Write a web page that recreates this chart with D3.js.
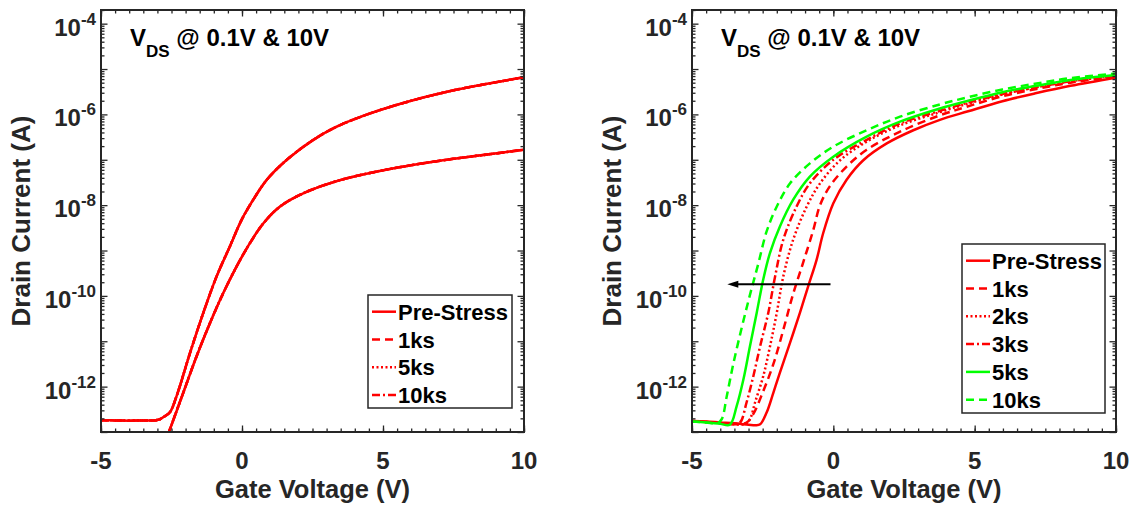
<!DOCTYPE html>
<html>
<head>
<meta charset="utf-8">
<script src="https://cdn.jsdelivr.net/npm/d3@7"></script>
<style>
  body { margin: 0; background: #ffffff; }
  svg { display: block; font-family: "Liberation Sans", Arial, Helvetica, sans-serif; font-weight: bold; }
</style>
</head>
<body>
<svg id="chart" width="1132" height="506"></svg>
<script>
// ---------- data ----------
const xTicks = [-5, 0, 5, 10];
const yTickExps = [-4, -6, -8, -10, -12];
const titleMain = "V";
const titleSub = "DS";
const titleRest = " @ 0.1V & 10V";
const xTitle = "Gate Voltage (V)";
const yTitle = "Drain Current (A)";

// Left panel: transfer curves at VDS = 10 V and 0.1 V (all stress times coincide)
const leftStress = ["Pre-Stress", "1ks", "5ks", "10ks"];
const leftVg10 = [-5, -4.5, -4, -3.5, -3.05, -2.91, -2.73, -2.55, -2.32, -1.84, -1.37, -0.90, -0.43, -0.01, 0.40, 0.88, 1.59, 2.53, 3.36, 4.54, 6.0, 7.5, 8.75, 10];
const leftId10 = [1.82e-13, 1.80e-13, 1.78e-13, 1.80e-13, 1.82e-13, 1.91e-13, 2.24e-13, 2.75e-13, 6.17e-13, 5.62e-12, 4.27e-11, 2.69e-10, 1.23e-9, 4.79e-9, 1.32e-8, 3.63e-8, 1.0e-7, 2.75e-7, 5.37e-7, 1.05e-6, 2.0e-6, 3.39e-6, 4.79e-6, 6.61e-6];
const leftVg01 = [-2.62, -2.08, -1.61, -1.13, -0.66, -0.19, 0.28, 0.76, 1.35, 2.17, 3.36, 4.54, 6.0, 7.5, 8.75, 10];
const leftId01 = [8.91e-14, 7.41e-13, 4.68e-12, 2.57e-11, 1.17e-10, 4.47e-10, 1.45e-9, 3.98e-9, 9.33e-9, 1.82e-8, 3.39e-8, 5.13e-8, 7.59e-8, 1.05e-7, 1.32e-7, 1.66e-7];

// Right panel: VDS = 10 V transfer curves after each stress time
const rightStress = ["Pre-Stress", "1ks", "2ks", "3ks", "5ks", "10ks"];
const rightVgPre = [-5, -4.5, -4, -3.5, -3, -2.75, -2.59, -2.36, -2.12, -1.89, -1.53, -1.18, -0.89, -0.59, -0.36, 0.0, 0.47, 1.06, 1.89, 2.83, 3.77, 4.77, 5.98, 7.19, 8.39, 10];
const rightIdPre = [1.74e-13, 1.70e-13, 1.62e-13, 1.55e-13, 1.45e-13, 1.41e-13, 1.48e-13, 2.69e-13, 7.41e-13, 2.04e-12, 9.33e-12, 4.27e-11, 1.62e-10, 6.31e-10, 2.40e-9, 1.10e-8, 3.63e-8, 9.77e-8, 2.29e-7, 4.47e-7, 7.59e-7, 1.17e-6, 1.95e-6, 2.95e-6, 4.27e-6, 6.46e-6];
const rightVg1ks = [-5, -4.5, -4, -3.5, -3.07, -2.83, -2.48, -2.12, -1.77, -1.42, -1.06, -0.71, -0.47, -0.12, 0.47, 1.18, 2.36, 3.77, 4.77, 5.98, 7.19, 8.39, 10];
const rightId1ks = [1.74e-13, 1.66e-13, 1.58e-13, 1.48e-13, 1.62e-13, 2.51e-13, 7.94e-13, 3.16e-12, 1.78e-11, 1.12e-10, 5.62e-10, 2.82e-9, 1.0e-8, 2.63e-8, 7.08e-8, 1.66e-7, 4.17e-7, 9.55e-7, 1.51e-6, 2.51e-6, 3.63e-6, 5.01e-6, 6.76e-6];
const rightVg2ks = [-5, -4.5, -4, -3.5, -3.1, -2.95, -2.77, -2.48, -2.24, -2.0, -1.77, -1.42, -0.94, -0.47, 0.24, 1.18, 2.36, 3.77, 4.77, 5.98, 7.19, 8.39, 10];
const rightId2ks = [1.74e-13, 1.66e-13, 1.58e-13, 1.48e-13, 1.51e-13, 1.91e-13, 4.47e-13, 1.70e-12, 7.76e-12, 4.27e-11, 2.69e-10, 1.74e-9, 9.33e-9, 3.02e-8, 9.77e-8, 2.51e-7, 5.75e-7, 1.12e-6, 1.74e-6, 2.75e-6, 3.98e-6, 5.37e-6, 7.08e-6];
const rightVg3ks = [-5, -4.5, -4, -3.5, -3.30, -3.07, -2.83, -2.59, -2.30, -2.06, -1.77, -1.30, -0.83, 0.0, 1.18, 2.36, 3.77, 4.77, 5.98, 7.19, 8.39, 10];
const rightId3ks = [1.74e-13, 1.66e-13, 1.58e-13, 1.51e-13, 1.62e-13, 4.47e-13, 1.70e-12, 7.76e-12, 4.27e-11, 2.69e-10, 1.74e-9, 9.33e-9, 3.02e-8, 1.0e-7, 2.75e-7, 6.31e-7, 1.20e-6, 1.82e-6, 2.82e-6, 3.98e-6, 5.37e-6, 7.08e-6];
const rightVg5ks = [-5, -4.5, -4, -3.66, -3.42, -3.18, -2.95, -2.71, -2.48, -2.24, -1.89, -1.42, -0.83, 0.0, 1.18, 2.36, 3.77, 4.77, 5.98, 7.19, 8.39, 10];
const rightId5ks = [1.70e-13, 1.62e-13, 1.51e-13, 1.45e-13, 3.72e-13, 1.45e-12, 7.76e-12, 4.27e-11, 2.29e-10, 8.91e-10, 3.39e-9, 1.32e-8, 4.27e-8, 1.17e-7, 3.24e-7, 6.92e-7, 1.35e-6, 2.0e-6, 3.09e-6, 4.27e-6, 5.75e-6, 7.41e-6];
const rightVg10ks = [-5, -4.5, -4.1, -3.95, -3.77, -3.54, -3.24, -2.95, -2.65, -2.36, -2.0, -1.53, -0.83, 0.0, 1.18, 2.36, 3.77, 4.77, 5.98, 7.19, 8.39, 10];
const rightId10ks = [1.70e-13, 1.62e-13, 1.58e-13, 1.91e-13, 6.17e-13, 3.16e-12, 2.0e-11, 1.05e-10, 5.25e-10, 2.63e-9, 9.33e-9, 3.02e-8, 8.32e-8, 1.95e-7, 4.47e-7, 8.91e-7, 1.66e-6, 2.40e-6, 3.55e-6, 4.79e-6, 6.31e-6, 7.94e-6];

// Threshold-shift arrow (from, to) at a fixed current level
const arrowVg = [-0.1, -3.75];
const arrowId = 1.8e-10;

// ---------- styling ----------
const axisColor = "#262626";
const red = "#ff0000";
const green = "#00ff00";
const dashes = { solid: null, dashed: "8,5", dotted: "2,2.5", dashdot: "8,3,2,3" };
const FONT_TICK = 24, FONT_SUP = 17, FONT_LABEL = 25.5, FONT_LEG = 22, FONT_TITLE = 24, FONT_TSUB = 17;

const svg = d3.select("#chart");
const plotTop = 10, plotBottom = 432;

function zip(xs, ys) { return xs.map((v, i) => [v, ys[i]]); }

function makePanel(id, x0, x1) {
  const g = svg.append("g").attr("id", id);
  const x = d3.scaleLinear().domain([-5, 10]).range([x0, x1]);
  const y = d3.scaleLog().domain([1e-13, 2e-4]).range([plotBottom, plotTop]);

  g.append("clipPath").attr("id", id + "-clip")
    .append("rect").attr("x", x0).attr("y", plotTop).attr("width", x1 - x0).attr("height", plotBottom - plotTop);

  const plot = g.append("g").attr("clip-path", `url(#${id}-clip)`);
  return { g, plot, x, y, x0, x1 };
}

function drawAxes(p) {
  const { g, x, y, x0, x1 } = p;
  const xMinor = d3.range(-5, 10.001, 0.5);
  const yMajor = d3.range(-13, -3).map(k => Math.pow(10, k));
  const yMinor = [];
  for (let k = -13; k <= -4; k++) for (let m = 2; m <= 9; m++) {
    const v = m * Math.pow(10, k);
    if (v <= 2e-4) yMinor.push(v);
  }
  const strip = sel => { sel.select(".domain").remove(); sel.selectAll("line").attr("stroke", axisColor).attr("stroke-width", 1.3); };

  // inward ticks on all four sides
  g.append("g").attr("transform", `translate(0,${plotBottom})`).call(d3.axisBottom(x).tickValues(xMinor).tickSize(-3.5).tickFormat("")).call(strip);
  g.append("g").attr("transform", `translate(0,${plotBottom})`).call(d3.axisBottom(x).tickValues(xTicks).tickSize(-6.5).tickFormat("")).call(strip);
  g.append("g").attr("transform", `translate(0,${plotTop})`).call(d3.axisTop(x).tickValues(xMinor).tickSize(-3.5).tickFormat("")).call(strip);
  g.append("g").attr("transform", `translate(0,${plotTop})`).call(d3.axisTop(x).tickValues(xTicks).tickSize(-6.5).tickFormat("")).call(strip);
  g.append("g").attr("transform", `translate(${x0},0)`).call(d3.axisLeft(y).tickValues(yMinor).tickSize(-3.5).tickFormat("")).call(strip);
  g.append("g").attr("transform", `translate(${x0},0)`).call(d3.axisLeft(y).tickValues(yMajor).tickSize(-6.5).tickFormat("")).call(strip);
  g.append("g").attr("transform", `translate(${x1},0)`).call(d3.axisRight(y).tickValues(yMinor).tickSize(-3.5).tickFormat("")).call(strip);
  g.append("g").attr("transform", `translate(${x1},0)`).call(d3.axisRight(y).tickValues(yMajor).tickSize(-6.5).tickFormat("")).call(strip);

  // frame
  g.append("rect").attr("x", x0).attr("y", plotTop).attr("width", x1 - x0).attr("height", plotBottom - plotTop)
    .attr("fill", "none").attr("stroke", axisColor).attr("stroke-width", 2);

  // x tick labels
  g.selectAll(".xlab").data(xTicks).join("text")
    .attr("x", d => x(d)).attr("y", plotBottom + 37)
    .attr("text-anchor", "middle").attr("font-size", FONT_TICK).attr("fill", axisColor)
    .text(d => d);

  // y tick labels 10^n
  yTickExps.forEach(e => {
    const yy = y(Math.pow(10, e));
    const t = g.append("text").attr("x", x0 - 5).attr("y", yy + 12)
      .attr("text-anchor", "end").attr("fill", axisColor).attr("font-size", FONT_TICK);
    t.append("tspan").text("10");
    t.append("tspan").attr("font-size", FONT_SUP).attr("dy", -11).text(String(e));
  });

  // axis titles
  g.append("text").attr("x", (x0 + x1) / 2).attr("y", 497.5)
    .attr("text-anchor", "middle").attr("font-size", FONT_LABEL).attr("fill", axisColor).text(xTitle);
  g.append("text").attr("transform", `translate(${x0 - 71},${(plotTop + plotBottom) / 2}) rotate(-90)`)
    .attr("text-anchor", "middle").attr("font-size", 26).attr("fill", axisColor).text(yTitle);

  // panel title
  const tt = g.append("text").attr("x", x0 + 29).attr("y", 46).attr("font-size", FONT_TITLE).attr("fill", "#000");
  tt.append("tspan").text(titleMain);
  tt.append("tspan").attr("font-size", FONT_TSUB).attr("dy", 11).text(titleSub);
  tt.append("tspan").attr("dy", -11).text(titleRest);
}

function drawCurves(p, series) {
  const line = d3.line().x(d => p.x(d[0])).y(d => p.y(d[1])).curve(d3.curveCatmullRom.alpha(0.5));
  series.forEach(s => {
    p.plot.append("path").datum(zip(s.vg, s.id))
      .attr("d", line).attr("fill", "none")
      .attr("stroke", s.color).attr("stroke-width", 2.5)
      .attr("stroke-dasharray", dashes[s.style]);
  });
}

function drawLegend(p, entries, bx, by, bw, bh) {
  const lg = p.g.append("g");
  lg.append("rect").attr("x", bx).attr("y", by).attr("width", bw).attr("height", bh)
    .attr("fill", "#fff").attr("stroke", axisColor).attr("stroke-width", 1.5);
  entries.forEach((e, i) => {
    const cy = by + 16.7 + i * 27.8;
    lg.append("line").attr("x1", bx + 4).attr("x2", bx + 28).attr("y1", cy).attr("y2", cy)
      .attr("stroke", e.color).attr("stroke-width", 2.5).attr("stroke-dasharray", dashes[e.style]);
    lg.append("text").attr("x", bx + 30).attr("y", cy + 8).attr("font-size", FONT_LEG).attr("fill", "#000").text(e.label);
  });
}

// ---------- left panel ----------
const left = makePanel("left", 101, 524);
const leftStyles = ["solid", "dashed", "dotted", "dashdot"];
const leftSeries = [];
leftStress.forEach((name, i) => {
  leftSeries.push({ vg: leftVg10, id: leftId10, color: red, style: leftStyles[i] });
  leftSeries.push({ vg: leftVg01, id: leftId01, color: red, style: leftStyles[i] });
});
drawCurves(left, leftSeries);
drawAxes(left);
drawLegend(left, leftStress.map((n, i) => ({ label: n, color: red, style: leftStyles[i] })), 368, 295, 144, 113);

// ---------- right panel ----------
const right = makePanel("right", 692, 1116);
const rightColors = [red, red, red, red, green, green];
const rightStyles = ["solid", "dashed", "dotted", "dashdot", "solid", "dashed"];
const rightVg = [rightVgPre, rightVg1ks, rightVg2ks, rightVg3ks, rightVg5ks, rightVg10ks];
const rightId = [rightIdPre, rightId1ks, rightId2ks, rightId3ks, rightId5ks, rightId10ks];
drawCurves(right, rightStress.map((n, i) => ({ vg: rightVg[i], id: rightId[i], color: rightColors[i], style: rightStyles[i] })));
drawAxes(right);

// shift arrow
{
  const ax0 = right.x(arrowVg[0]), ax1 = right.x(arrowVg[1]), ay = right.y(arrowId);
  right.g.append("line").attr("x1", ax0).attr("x2", ax1 + 8).attr("y1", ay).attr("y2", ay)
    .attr("stroke", "#000").attr("stroke-width", 2);
  right.g.append("path")
    .attr("d", `M${ax1},${ay} L${ax1 + 11},${ay - 3.5} L${ax1 + 11},${ay + 3.5} Z`)
    .attr("fill", "#000");
}
drawLegend(right, rightStress.map((n, i) => ({ label: n, color: rightColors[i], style: rightStyles[i] })), 962, 244, 143, 169);
</script>
</body>
</html>
